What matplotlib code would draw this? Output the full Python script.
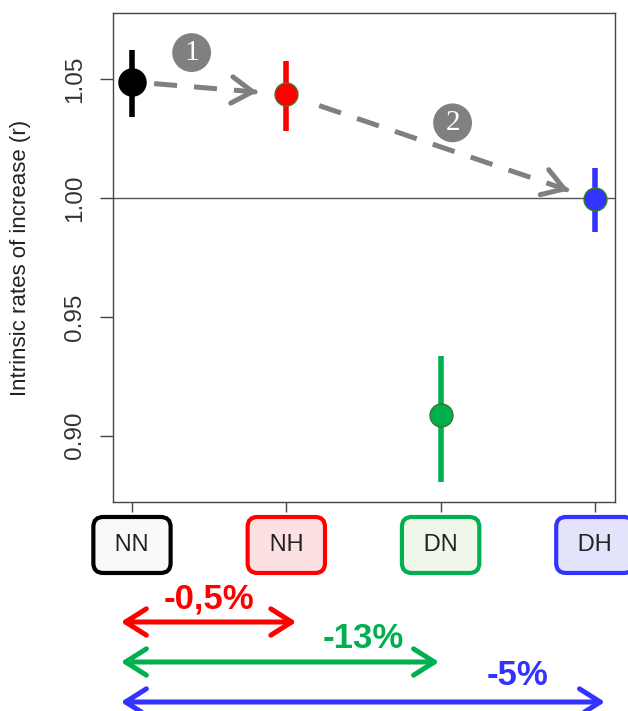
import numpy as np
import matplotlib
matplotlib.use("Agg")
import matplotlib.pyplot as plt

plt.rcParams['font.family'] = ['Liberation Sans', 'DejaVu Sans']

# --- data ---
groups = ["NN", "NH", "DN", "DH"]
r_mean = [1.049, 1.0437, 0.9088, 0.9995]
r_low = [1.034, 1.0285, 0.8806, 0.9857]
r_high = [1.0626, 1.0576, 0.9337, 1.0127]
effects = ["-0,5%", "-13%", "-5%"]   # NN -> NH, DN, DH
steps = ["1", "2"]

point_colors = ["black", "#ff0000", "#00b050", "#3333ff"]
edge_colors = ["black", "#3a7d2c", "#2f7a2f", "#3a7d2c"]
box_faces = ["#f9f9f9", "#fde0e2", "#eef7e8", "#e3e3fb"]
marker_sizes = [19.5, 16.5, 16.5, 16.5]

x_pos = np.arange(1, len(groups) + 1)

# --- figure ---
fig = plt.figure(figsize=(6.28, 7.11), dpi=100)
ax = fig.add_axes([113 / 628, 1 - 502 / 711, 502 / 628, 489 / 711])
ax.set_xlim(0.877, 4.13)
ax.set_ylim(0.872, 1.078)

ax.axhline(1.0, color="#555555", lw=1, zorder=1)

for i in range(len(groups)):
    ax.errorbar(x_pos[i], r_mean[i],
                yerr=[[r_mean[i] - r_low[i]], [r_high[i] - r_mean[i]]],
                fmt="o", color=point_colors[i], ms=marker_sizes[i],
                mec=edge_colors[i], mew=1, elinewidth=4, capsize=0, zorder=3)

# axes styling (R-like)
for s in ax.spines.values():
    s.set_color("#444444")
    s.set_linewidth(1)
ax.set_yticks([0.90, 0.95, 1.00, 1.05])
ax.set_yticklabels(["0.90", "0.95", "1.00", "1.05"], rotation=90, va="center")
ax.tick_params(axis="y", length=9.5, width=1, color="#444444",
               labelsize=17.5, labelcolor="#333333", pad=10)
ax.set_xticks(x_pos)
ax.set_xticklabels([])
ax.tick_params(axis="x", length=7, width=1, color="#444444")
ax.set_ylabel("Intrinsic rates of increase (r)", fontsize=16, color="#222222")
ax.yaxis.set_label_coords(-0.163, 0.5)

# --- dashed gray arrows between treatments ---
fig.canvas.draw()
arrow_pairs = [(0, 1, 16, 21), (1, 3, 25, 20)]
circle_offsets = [(-12.6, 25.6), (8.6, 17.3)]
for k, (a, b, sA, sB) in enumerate(arrow_pairs):
    p0 = ax.transData.transform((x_pos[a], r_mean[a]))
    p1 = ax.transData.transform((x_pos[b], r_mean[b]))
    u = (p1 - p0) / np.hypot(*(p1 - p0))
    ax.annotate("", xy=(x_pos[b], r_mean[b]), xytext=(x_pos[a], r_mean[a]),
                arrowprops=dict(arrowstyle="-", color="#808080", lw=3.6,
                                linestyle=(0, (4.6, 3.4)), capstyle="butt",
                                shrinkA=sA, shrinkB=sB + 2),
                zorder=2)
    back = sB + 1.5
    ax.annotate("", xy=(x_pos[b], r_mean[b]),
                xytext=(-u[0] * back, -u[1] * back), textcoords="offset points",
                arrowprops=dict(arrowstyle="->,head_length=1.5,head_width=0.95",
                                mutation_scale=10, color="#808080", lw=3.6,
                                capstyle="round", joinstyle="round",
                                shrinkA=0, shrinkB=sB),
                zorder=2)
    mid = ((x_pos[a] + x_pos[b]) / 2, (r_mean[a] + r_mean[b]) / 2)
    ax.annotate(steps[k], xy=mid, xytext=circle_offsets[k],
                textcoords="offset points", ha="center", va="center",
                fontsize=21, color="white", family="Liberation Serif",
                bbox=dict(boxstyle="circle,pad=0.22", fc="#808080", ec="none"))

# --- treatment boxes under the x ticks ---
xtr = ax.get_xaxis_transform()
for i, g in enumerate(groups):
    ax.text(x_pos[i], -0.0879, "\u2009" + g + "\u2009", transform=xtr,
            ha="center", va="center", fontsize=17, color="#222222",
            clip_on=False,
            bbox=dict(boxstyle="round,pad=0.72,rounding_size=0.42",
                      fc=box_faces[i], ec=point_colors[i], lw=3))

# --- double arrows with % change relative to NN ---
arrow_y = [-0.2454, -0.3272, -0.409]
label_y = [-0.1983, -0.2801, -0.3558]
right_pad = [0.065, -0.01, 0.065]
for j, txt in enumerate(effects):
    tgt = j + 1
    col = point_colors[tgt]
    ax.annotate("", xy=(x_pos[tgt] + right_pad[j], arrow_y[j]),
                xytext=(x_pos[0] - 0.072, arrow_y[j]),
                xycoords=xtr, textcoords=xtr, annotation_clip=False,
                arrowprops=dict(arrowstyle="<->,head_length=1.5,head_width=0.95",
                                mutation_scale=10, color=col, lw=3.6,
                                capstyle="round", joinstyle="round",
                                shrinkA=0, shrinkB=0))
    ax.text((x_pos[tgt - 1] + x_pos[tgt]) / 2, label_y[j], txt, transform=xtr,
            ha="center", va="center", fontsize=25, fontweight="bold",
            color=col, clip_on=False)

fig.savefig("out.png", dpi=100)
